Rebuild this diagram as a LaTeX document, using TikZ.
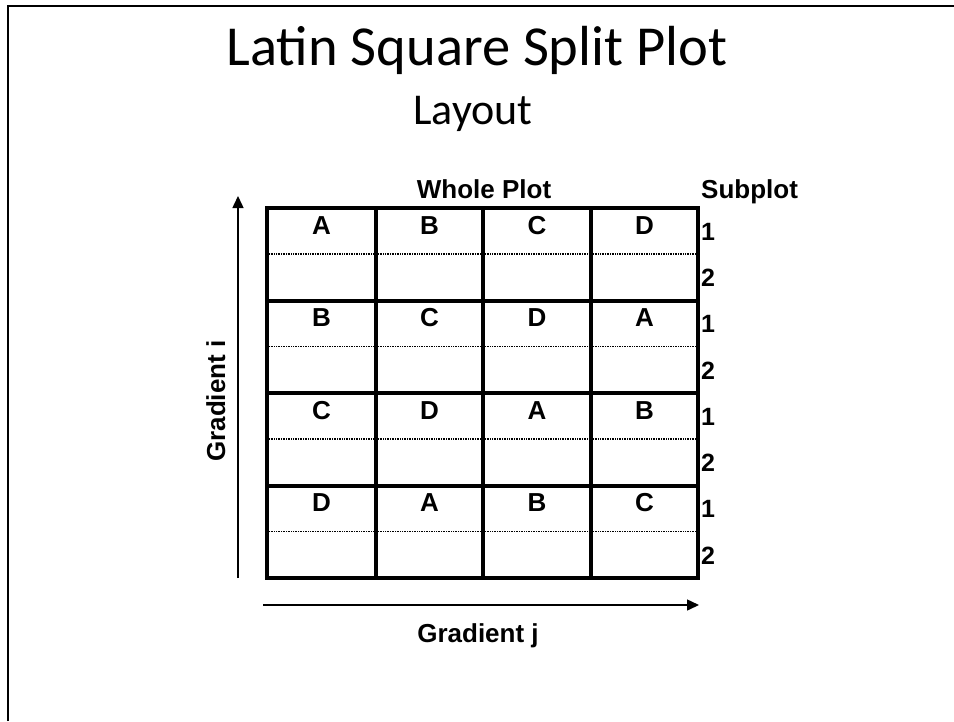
\documentclass[tikz,border=0pt]{standalone}
\usepackage{fontspec}
\setmainfont{Liberation Sans}
\newfontfamily\titlefont{Carlito}
\usetikzlibrary{arrows.meta}
\begin{document}
\begin{tikzpicture}[x=1pt,y=-1pt,
  lbl/.style={font=\fontsize{26}{28}\selectfont\bfseries, inner sep=0pt},
  cellltr/.style={font=\fontsize{26}{28}\selectfont\bfseries, inner sep=0pt, anchor=base},
  subnum/.style={font=\fontsize{25}{28}\selectfont\bfseries, inner sep=0pt, anchor=base west},
  thick grid/.style={line width=4pt},
  subdiv/.style={line width=1.8pt, dash pattern=on 1pt off 0.7pt},
  axisarrow/.style={line width=1.5pt, -{Triangle[length=12pt,width=11pt]}}
]
\useasboundingbox (0,0) rectangle (954,721);
\fill[white] (0,0) rectangle (954,721);
% slide frame
\draw[line width=2pt] (8,721) -- (8,6) -- (954,6);
% titles
\node[anchor=base, inner sep=0pt, font=\titlefont\fontsize{56.5}{60}\selectfont] (title) at (477,65) {Latin Square Split Plot};
\node[anchor=base, inner sep=0pt, font=\titlefont\fontsize{44}{48}\selectfont] (sub) at (473,124) {Layout};
% headers
\node[lbl, anchor=base] (whole) at (484,198) {Whole Plot};
\node[lbl, anchor=base west] (subplot) at (701,198) {Subplot};
% subplot dividers (dotted)
\foreach \r/\t in {0/208,1/300.5,2/393,3/485.5}{
  \foreach \a/\b in {267/376,376/483,483/591,591/698}{
    \draw[subdiv] (\a+2,\t+46) -- (\b-2,\t+46);
  }
}
% grid
\draw[thick grid] (267,208) rectangle (698,578);
\foreach \x in {376,483,591}{ \draw[thick grid] (\x,208) -- (\x,578); }
\foreach \y in {300.5,393,485.5}{ \draw[thick grid] (267,\y) -- (698,\y); }
% letters
\foreach \row/\t/\la/\lb/\lc/\ld in {0/208/A/B/C/D,1/300.5/B/C/D/A,2/393/C/D/A/B,3/485.5/D/A/B/C}{
  \node[cellltr] (c\row a) at (321.5,\t+26) {\la};
  \node[cellltr] (c\row b) at (429.5,\t+26) {\lb};
  \node[cellltr] (c\row c) at (537,\t+26) {\lc};
  \node[cellltr] (c\row d) at (644.5,\t+26) {\ld};
  \node[subnum] (n\row one) at (701,\t+32) {1};
  \node[subnum] (n\row two) at (701,\t+78.5) {2};
}
% gradient arrows
\coordinate (gib) at (238,578);
\coordinate (git) at (238,196);
\draw[axisarrow] (gib) -- (git);
\coordinate (gjl) at (263,605);
\coordinate (gjr) at (699,605);
\draw[axisarrow] (gjl) -- (gjr);
\node[lbl, anchor=base] (gj) at (478,642) {Gradient j};
\node[lbl, anchor=base, rotate=90] (gi) at (225,401) {Gradient i};
\end{tikzpicture}
\end{document}
